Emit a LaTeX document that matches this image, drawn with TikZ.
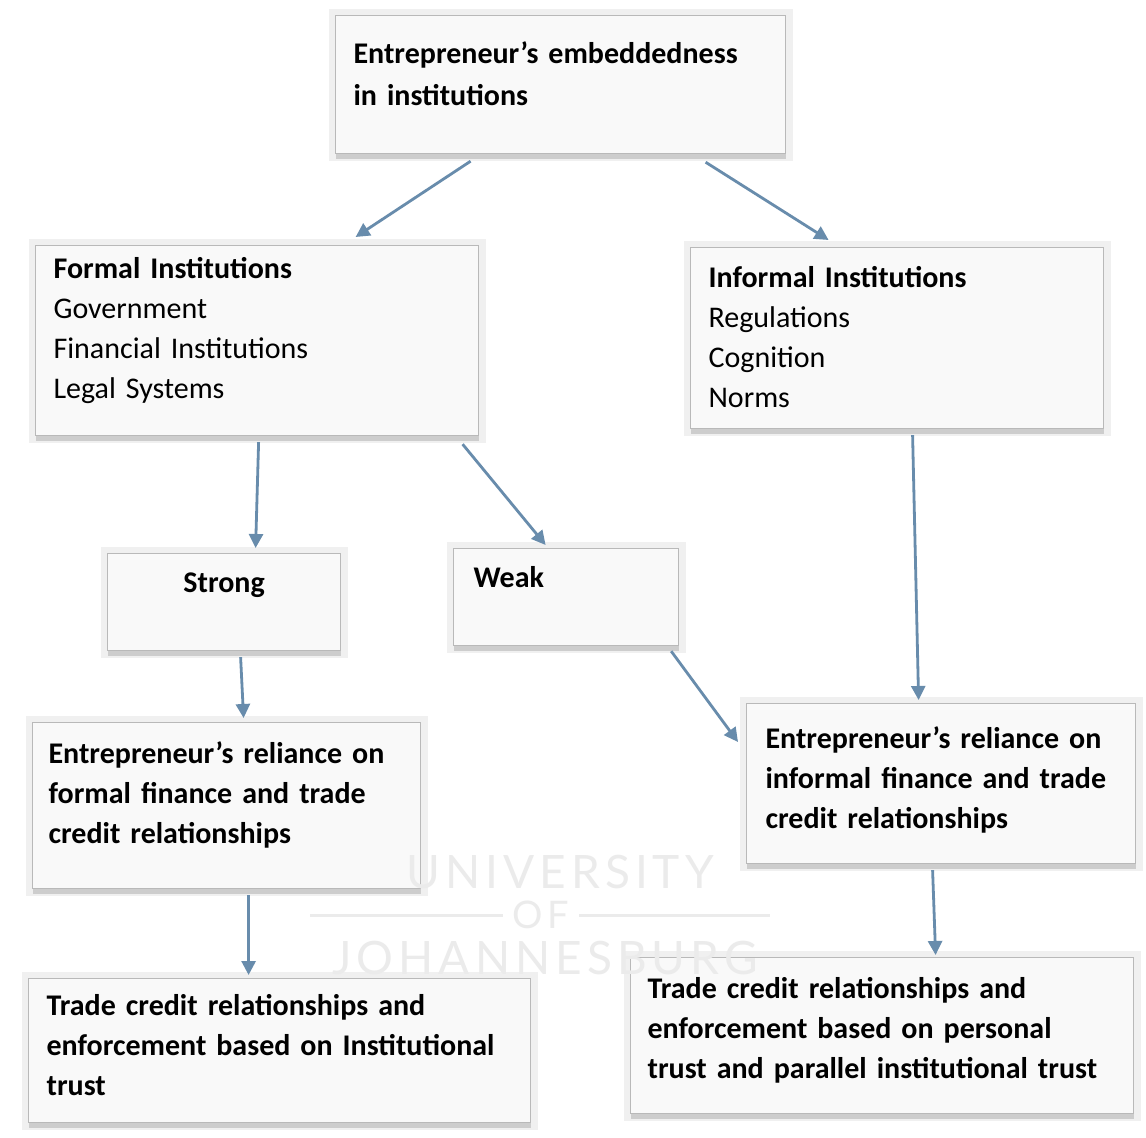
\documentclass[tikz,border=0pt]{standalone}
\usepackage{fontspec}
\setmainfont{Carlito}
\newfontfamily\wmfont[LetterSpace=11]{Lato}
\usetikzlibrary{arrows.meta}
\usetikzlibrary{shadows}

\definecolor{arrowblue}{RGB}{104,140,172}

\begin{document}
\begin{tikzpicture}[x=0.5pt,y=-0.5pt]
		\tikzset{box/.style={anchor=north west, draw=gray!55, fill=gray!5, line width=0.6pt,
				align=left, inner ysep=0pt, inner xsep=9pt, font=\fontsize{15}{20}\selectfont,
				preaction={draw=gray!12, line width=7pt},
				drop shadow={shadow xshift=0pt, shadow yshift=-2.5pt, fill=gray!65}}}
		\tikzset{arrow/.style={draw=arrowblue, line width=1.4pt, -{Triangle[length=7pt,width=7pt]}}}
		\tikzset{watermark/.style={text=gray!16, font=\wmfont\fontsize{23}{25}\selectfont, inner sep=0pt}}
		\useasboundingbox[fill=white] (0,0) rectangle (1146,1138);
		%boxes
		\node[box, font=\fontsize{15}{21}\selectfont, text width=207pt, text height=24pt, text depth=45pt] (embed) at (335,15)
			{\textbf{Entrepreneur's embeddedness}\\\textbf{in institutions}};
		\node[box, text width=203.5pt, text height=16.5pt, text depth=78.5pt] (formal) at (35,245)
			{\textbf{Formal Institutions}\\Government\\Financial Institutions\\Legal Systems};
		\node[box, text width=188.5pt, text height=20pt, text depth=70.5pt] (informal) at (690,247)
			{\textbf{Informal Institutions}\\Regulations\\Cognition\\Norms};
		\node[box, align=center, text width=98.5pt, text height=19.5pt, text depth=29pt] (strong) at (107,553)
			{\textbf{Strong}};
		\node[box, inner xsep=10pt, text width=92.5pt, text height=19.5pt, text depth=29pt] (weak) at (453,548)
			{\textbf{Weak}};
		\node[box, inner xsep=8pt, text width=178pt, text height=20.5pt, text depth=62.5pt] (relformal) at (32,722)
			{\textbf{Entrepreneur's reliance on}\\\textbf{formal finance and trade}\\\textbf{credit relationships}};
		\node[box, inner xsep=9.5pt, text width=175.5pt, text height=22.5pt, text depth=57.5pt] (relinformal) at (746,703)
			{\textbf{Entrepreneur's reliance on}\\\textbf{informal finance and trade}\\\textbf{credit relationships}};
		\node[box, text width=233pt, text height=18.5pt, text depth=53.5pt] (tradeformal) at (28,978)
			{\textbf{Trade credit relationships and}\\\textbf{enforcement based on Institutional}\\\textbf{trust}};
		\node[box, inner xsep=8.5pt, text width=234.5pt, text height=20.5pt, text depth=57.5pt] (tradeinformal) at (630,957)
			{\textbf{Trade credit relationships and}\\\textbf{enforcement based on personal}\\\textbf{trust and parallel institutional trust}};
		%arrows
		\path ([xshift=-45pt,yshift=-3.5pt]embed.south) edge[arrow] ([xshift=49.25pt,yshift=4pt]formal.north);
		\path ([xshift=72.5pt,yshift=-4pt]embed.south) edge[arrow] ([xshift=-34.25pt,yshift=3.5pt]informal.north);
		\path ([xshift=0.75pt,yshift=-3pt]formal.south) edge[arrow] ([xshift=15.75pt,yshift=2.5pt]strong.north);
		\path ([xshift=102.75pt,yshift=-4pt]formal.south) edge[arrow] ([xshift=-10.25pt,yshift=1.5pt]weak.north);
		\path ([xshift=7.75pt,yshift=-3pt]informal.south) edge[arrow] ([xshift=-11.25pt,yshift=1.5pt]relinformal.north);
		\path ([xshift=8.25pt,yshift=-3pt]strong.south) edge[arrow] ([xshift=8.5pt,yshift=2pt]relformal.north);
		\path ([xshift=-4pt,yshift=-2.5pt]weak.south east) edge[arrow] ([xshift=-4pt,yshift=-19.5pt]relinformal.north west);
		\path ([xshift=11pt,yshift=-3pt]relformal.south) edge[arrow] ([xshift=-15.5pt,yshift=1.5pt]tradeformal.north);
		\path ([xshift=-4.25pt,yshift=-3pt]relinformal.south) edge[arrow] ([xshift=26.75pt,yshift=1pt]tradeinformal.north);
		%watermark
		\node[watermark] (uni) at (560,872) {UNIVERSITY};
		\node[watermark, font=\wmfont\fontsize{19}{21}\selectfont] (of) at (541,915) {OF};
		\node[watermark] (joburg) at (545,958) {JOHANNESBURG};
		\coordinate (ofleft) at (310,915);
		\coordinate (ofright) at (770,915);
		\draw[gray!16, line width=1.5pt] ([xshift=-5pt]of.west) -- (ofleft);
		\draw[gray!16, line width=1.5pt] ([xshift=5pt]of.east) -- (ofright);
		\end{tikzpicture}
\end{document}
